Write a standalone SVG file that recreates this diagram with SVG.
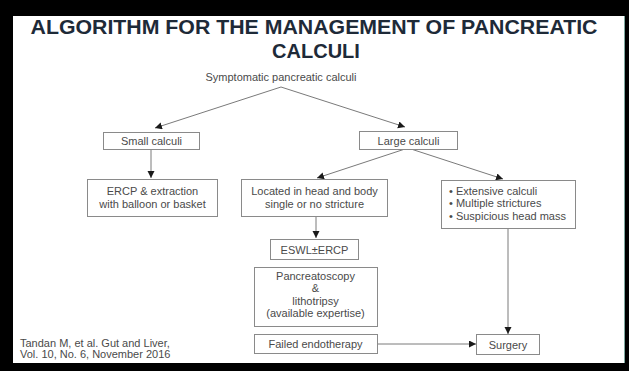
<svg xmlns="http://www.w3.org/2000/svg" width="629" height="371" viewBox="0 0 629 371">
<style>
.frame{fill:#000}
.box{fill:#fff;stroke:#8a8a8a;stroke-width:1}
.t{font-family:"Liberation Sans",Arial,sans-serif;font-size:11px;fill:#4a4a4a}
.c{text-anchor:middle}
.title{font-family:"Liberation Sans",Arial,sans-serif;font-weight:bold;font-size:20px;fill:#1e2a38;text-anchor:middle}
.ln{fill:none;stroke:#7a7a7a;stroke-width:1}
</style>
<defs>
<marker id="ah" markerUnits="userSpaceOnUse" markerWidth="8" markerHeight="8" refX="7" refY="3.5" orient="auto">
<path d="M0,0 L7,3.5 L0,7 z" fill="#1a1a1a"/>
</marker>
</defs>
<rect x="0" y="0" width="629" height="371" fill="#fff"/>
<rect class="frame" x="0" y="0" width="629" height="16"/>
<rect class="frame" x="0" y="0" width="13" height="371"/>
<rect class="frame" x="0" y="363" width="629" height="8"/>
<rect class="frame" x="625" y="0" width="4" height="371"/>
<line x1="624.5" y1="16" x2="624.5" y2="363" stroke="#7fa8a0" stroke-width="1"/>

<g id="title">
<text class="title" x="314" y="34" textLength="567" lengthAdjust="spacingAndGlyphs">ALGORITHM FOR THE MANAGEMENT OF PANCREATIC</text>
<text class="title" x="316" y="58">CALCULI</text>
</g>

<g id="connectors">
<line class="ln" x1="281" y1="87" x2="155" y2="128" marker-end="url(#ah)"/>
<line class="ln" x1="281" y1="87" x2="405" y2="127" marker-end="url(#ah)"/>
<line class="ln" x1="151" y1="149" x2="151" y2="178" marker-end="url(#ah)"/>
<line class="ln" x1="405" y1="149" x2="317" y2="178" marker-end="url(#ah)"/>
<line class="ln" x1="411" y1="149" x2="503" y2="179" marker-end="url(#ah)"/>
<line class="ln" x1="316" y1="216" x2="316" y2="238" marker-end="url(#ah)"/>
<line class="ln" x1="508" y1="228" x2="508" y2="334" marker-end="url(#ah)"/>
<line class="ln" x1="377" y1="344" x2="476" y2="344" marker-end="url(#ah)"/>
</g>

<g id="symptomatic">
<text class="t c" x="281" y="81">Symptomatic pancreatic calculi</text>
</g>

<g id="small">
<rect class="box" x="103.5" y="132.5" width="96" height="17"/>
<text class="t c" x="151.5" y="145">Small calculi</text>
</g>

<g id="large">
<rect class="box" x="359.5" y="131.5" width="98" height="18"/>
<text class="t c" x="408.5" y="144.5">Large calculi</text>
</g>

<g id="ercp">
<rect class="box" x="87.5" y="179.5" width="130" height="37"/>
<text class="t c" x="152.5" y="195">ERCP &amp; extraction</text>
<text class="t c" x="152.5" y="208">with balloon or basket</text>
</g>

<g id="located">
<rect class="box" x="241.5" y="179.5" width="146" height="37"/>
<text class="t c" x="314.5" y="195">Located in head and body</text>
<text class="t c" x="314.5" y="208">single or no stricture</text>
</g>

<g id="extensive">
<rect class="box" x="441.5" y="180.5" width="134" height="48"/>
<text class="t" x="449" y="195">• Extensive calculi</text>
<text class="t" x="449" y="207">• Multiple strictures</text>
<text class="t" x="449" y="220">• Suspicious head mass</text>
</g>

<g id="eswl">
<rect class="box" x="270.5" y="239.5" width="88" height="20"/>
<text class="t c" x="314.5" y="253.5">ESWL±ERCP</text>
</g>

<g id="pancreatoscopy">
<rect class="box" x="254.5" y="267.5" width="123" height="59"/>
<text class="t c" x="315.5" y="280">Pancreatoscopy</text>
<text class="t c" x="315.5" y="292">&amp;</text>
<text class="t c" x="315.5" y="305">lithotripsy</text>
<text class="t c" x="315.5" y="317">(available expertise)</text>
</g>

<g id="failed">
<rect class="box" x="254.5" y="334.5" width="123" height="19"/>
<text class="t c" x="315.5" y="347.5">Failed endotherapy</text>
</g>

<g id="surgery">
<rect class="box" x="476.5" y="334.5" width="63" height="20"/>
<text class="t c" x="508" y="348.5">Surgery</text>
</g>

<g id="citation">
<text class="t" x="20" y="347" font-size="10.2">Tandan M, et al. Gut and Liver,</text>
<text class="t" x="20" y="358" font-size="10.2">Vol. 10, No. 6, November 2016</text>
</g>
</svg>
